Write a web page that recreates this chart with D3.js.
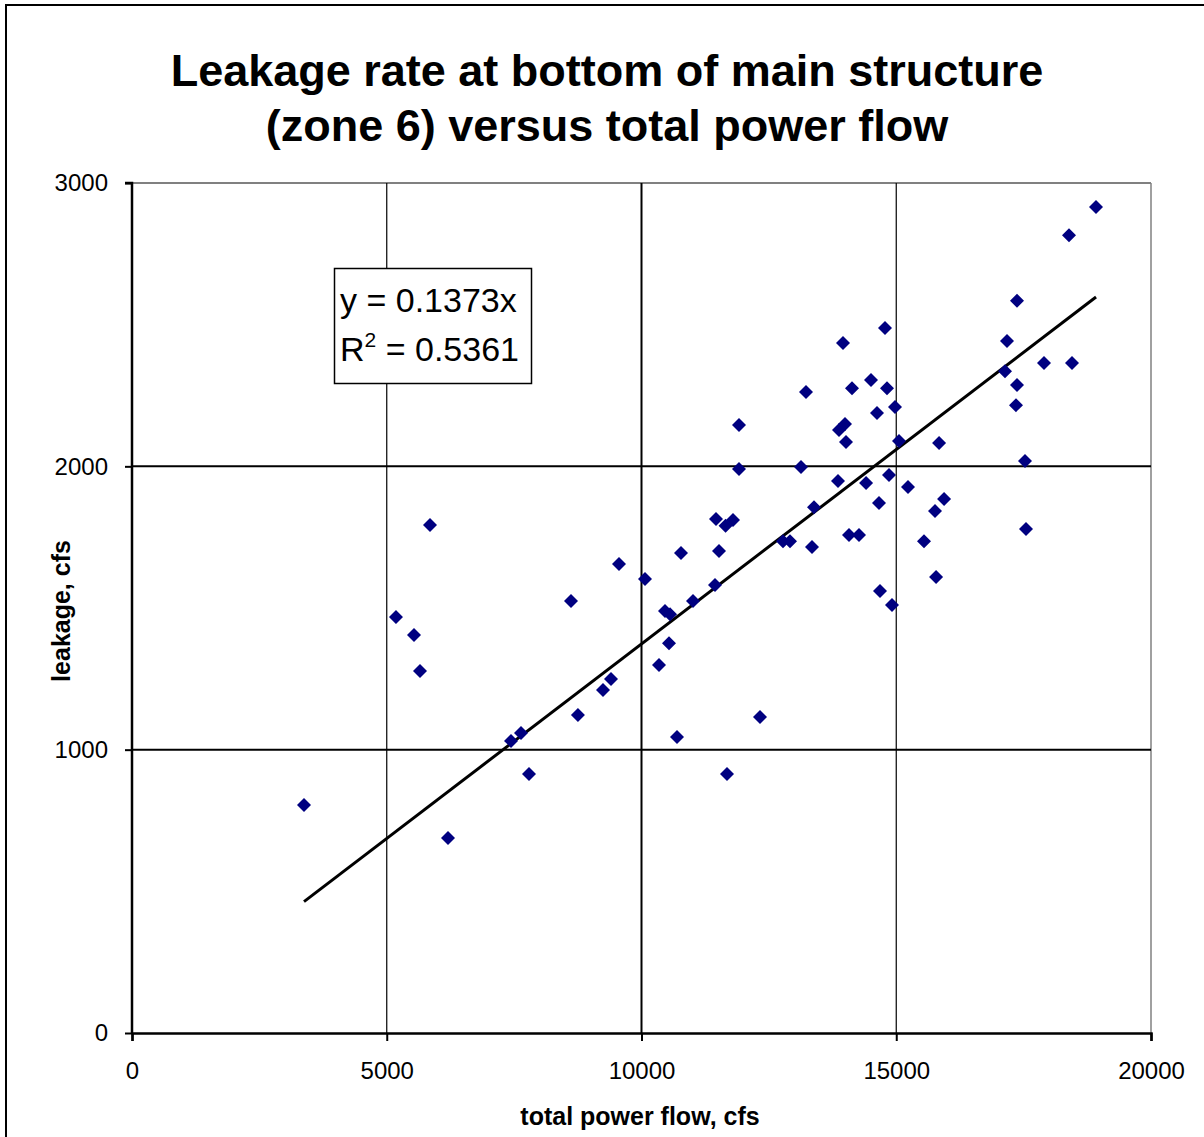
<!DOCTYPE html>
<html><head><meta charset="utf-8">
<script src="https://cdn.jsdelivr.net/npm/d3@7"></script>
<style>body{margin:0;background:#fff;} svg{display:block;}</style>
</head><body>
<script>
const titleLines = ["Leakage rate at bottom of main structure", "(zone 6) versus total power flow"];
const xLabel = "total power flow, cfs";
const yLabel = "leakage, cfs";
const xTicks = [0, 5000, 10000, 15000, 20000];
const yTicks = [0, 1000, 2000, 3000];
const slope = 0.1373;
const r2 = "0.5361";
const flow = [3376,5181,5535,5653,5849,6202,7439,7635,7792,8616,8753,9244,9401,9558,10069,10344,10461,10560,10540,10697,10775,11011,11443,11462,11521,11650,11678,11796,11914,11914,12326,12777,12915,13131,13229,13347,13386,13857,13876,13955,13994,14014,14073,14132,14269,14407,14504,14622,14661,14681,14779,14818,14858,14917,14976,15054,15231,15545,15761,15781,15840,15938,17174,17134,17350,17370,17370,17527,17547,17900,18391,18450,18921];
const leak = [805,1468,1405,1278,1793,688,1031,1059,914,1525,1122,1211,1249,1655,1602,1299,1489,1478,1376,1045,1694,1525,1581,1814,1701,1790,914,1811,2146,1991,1115,1736,1736,1998,2262,1715,1856,1948,2128,2435,2149,2086,1758,2276,1758,1941,2305,2188,1871,1560,2488,2276,1969,1511,2209,2089,1927,1736,1842,1609,2082,1885,2442,2336,2216,2584,2287,2019,1779,2365,2816,2365,2915];

const W = 1204, H = 1137;
const svg = d3.select("body").append("svg").attr("width", W).attr("height", H);
const font = "'Liberation Sans', Arial, sans-serif";

// outer border
svg.append("rect").attr("x", 6).attr("y", 5).attr("width", 1220).attr("height", 1160)
  .attr("fill", "none").attr("stroke", "#000").attr("stroke-width", 2);

const x = d3.scaleLinear().domain([0, 20000]).range([132, 1151]);
const y = d3.scaleLinear().domain([0, 3000]).range([1033, 183]);

// title
svg.append("g").selectAll("text").data(titleLines).join("text")
  .attr("x", 607).attr("y", (d, i) => 86 + i * 55)
  .attr("text-anchor", "middle").attr("font-family", font)
  .attr("font-weight", "bold").attr("font-size", 45).text(d => d);

// plot frame top/right (gray)
svg.append("line").attr("x1", x(0)).attr("x2", x(20000)).attr("y1", y(3000)).attr("y2", y(3000))
  .attr("stroke", "#808080").attr("stroke-width", 2);
svg.append("line").attr("x1", x(20000)).attr("x2", x(20000)).attr("y1", y(3000)).attr("y2", y(0))
  .attr("stroke", "#808080").attr("stroke-width", 1.5);

// grid
svg.append("g").selectAll("line").data(xTicks.filter(t => t > 0 && t < 20000)).join("line")
  .attr("x1", d => x(d)).attr("x2", d => x(d)).attr("y1", y(3000)).attr("y2", y(0))
  .attr("stroke", "#000").attr("stroke-width", d => d === 10000 ? 2 : 1.2);
svg.append("g").selectAll("line").data(yTicks.filter(t => t > 0 && t < 3000)).join("line")
  .attr("x1", x(0)).attr("x2", x(20000)).attr("y1", d => y(d)).attr("y2", d => y(d))
  .attr("stroke", "#000").attr("stroke-width", 2);

// axes
const xAxis = svg.append("g").attr("transform", `translate(0,${y(0)})`)
  .call(d3.axisBottom(x).tickValues(xTicks).tickFormat(d3.format("d")).tickSize(8).tickPadding(21));
const yAxis = svg.append("g").attr("transform", `translate(${x(0)},0)`)
  .call(d3.axisLeft(y).tickValues(yTicks).tickFormat(d3.format("d")).tickSize(7).tickPadding(17));
[xAxis, yAxis].forEach(g => {
  g.select(".domain").attr("stroke", "#000").attr("stroke-width", 2.5);
  g.selectAll(".tick line").attr("stroke", "#000").attr("stroke-width", 2);
  g.selectAll(".tick text").attr("font-family", font).attr("font-size", 24).attr("fill", "#000");
});
yAxis.select(".domain").attr("d", `M-7,${y(3000)}H0V${y(0)}`);

// axis titles
svg.append("text").attr("x", 640).attr("y", 1125).attr("text-anchor", "middle")
  .attr("font-family", font).attr("font-weight", "bold").attr("font-size", 25).text(xLabel);
svg.append("text").attr("transform", "translate(70,611) rotate(-90)").attr("text-anchor", "middle")
  .attr("font-family", font).attr("font-weight", "bold").attr("font-size", 25).text(yLabel);

// trendline
const xmin = d3.min(flow), xmax = d3.max(flow);
svg.append("line").attr("x1", x(xmin)).attr("y1", y(slope * xmin))
  .attr("x2", x(xmax)).attr("y2", y(slope * xmax))
  .attr("stroke", "#000").attr("stroke-width", 3);

// points
const diamond = "M0,-7L7,0L0,7L-7,0Z";
svg.append("g").selectAll("path").data(flow.map((f, i) => [f, leak[i]])).join("path")
  .attr("d", diamond).attr("transform", d => `translate(${x(d[0])},${y(d[1])})`)
  .attr("fill", "#000080");

// equation box
const box = svg.append("g");
box.append("rect").attr("x", 334.5).attr("y", 268.5).attr("width", 197).attr("height", 115)
  .attr("fill", "#fff").attr("stroke", "#000").attr("stroke-width", 1.5);
box.append("text").attr("x", 340).attr("y", 312).attr("font-family", font).attr("font-size", 34)
  .text(`y = ${slope}x`);
const t2 = box.append("text").attr("x", 340).attr("y", 361).attr("font-family", font).attr("font-size", 34);
t2.append("tspan").text("R");
t2.append("tspan").attr("font-size", 21).attr("dy", -14).text("2");
t2.append("tspan").attr("dy", 14).text(` = ${r2}`);
</script>
</body></html>
